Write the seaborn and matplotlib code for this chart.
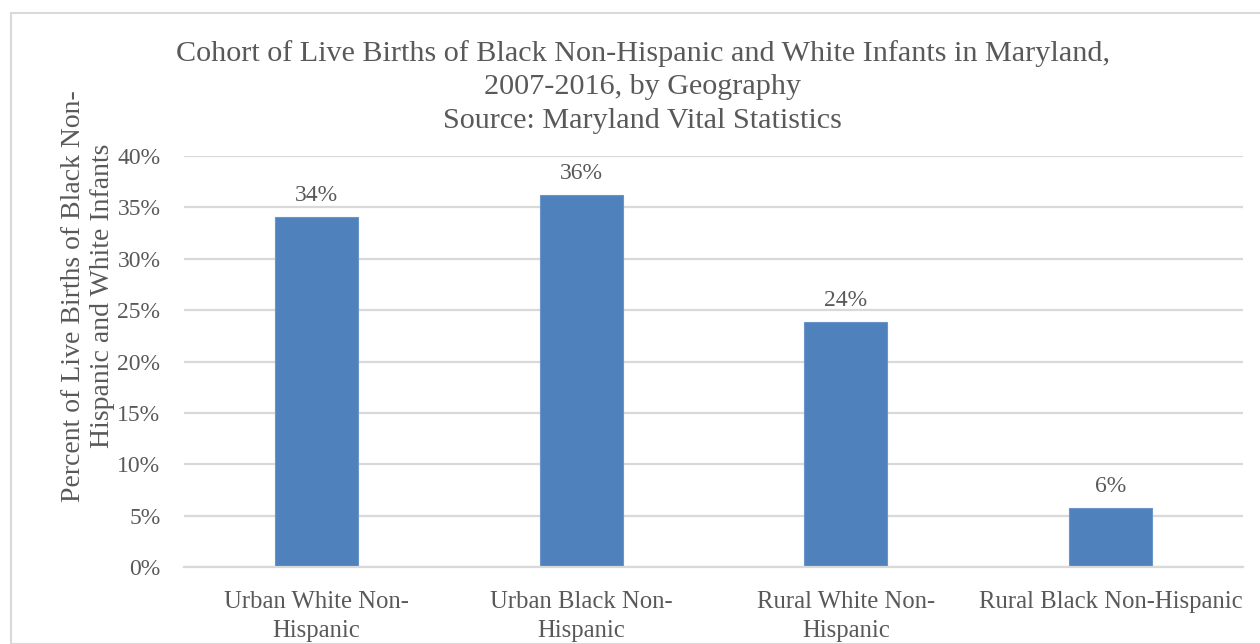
import pandas as pd
import seaborn as sns
import matplotlib.pyplot as plt
from matplotlib.patches import Rectangle
from matplotlib.ticker import FuncFormatter

# Dados
categorias = ['Urban White Non-\nHispanic', 'Urban Black Non-\nHispanic',
              'Rural White Non-\nHispanic', 'Rural Black Non-Hispanic']
percentuais = [34.1, 36.2, 23.8, 5.7]
rotulos = ['34%', '36%', '24%', '6%']

df = pd.DataFrame({'Grupo': categorias, 'Percentual': percentuais})

sns.set_style('white')
plt.rcParams['font.family'] = ['Liberation Serif', 'DejaVu Serif']

cinza = '#595959'
grade = '#d9d9d9'

fig = plt.figure(figsize=(12.6, 6.44), dpi=100)
ax = fig.add_axes([184 / 1260, 1 - 567 / 644, (1243 - 184) / 1260, (567 - 156) / 644])

sns.barplot(data=df, x='Grupo', y='Percentual', color='#4f81bd', saturation=1,
            width=0.313, ax=ax, edgecolor='#6a95c9', linewidth=0.8)

ax.bar_label(ax.containers[0], labels=rotulos, padding=8, fontsize=17, color=cinza)

ax.set_ylim(0, 40)
ax.set_yticks(range(0, 41, 5))
ax.yaxis.set_major_formatter(FuncFormatter(lambda v, p: f'{int(v)}%'))
ax.grid(axis='y', color=grade, linewidth=1.6)
ax.set_axisbelow(True)
for lado in ['top', 'right', 'left']:
    ax.spines[lado].set_visible(False)
ax.spines['bottom'].set_color(grade)
ax.spines['bottom'].set_linewidth(1.6)
ax.tick_params(axis='y', length=0, pad=17, labelsize=17, labelcolor=cinza)
ax.tick_params(axis='x', length=0, pad=17, labelsize=17.8, labelcolor=cinza)
for t in ax.get_xticklabels():
    t.set_linespacing(1.44)
ax.set_xlabel('')
ax.set_ylabel('Percent of Live Births of Black Non-\nHispanic and White Infants',
              fontsize=20, color=cinza, multialignment='center', linespacing=1.21)
ax.yaxis.set_label_coords(-0.065, 0.66)

fig.suptitle('Cohort of Live Births of Black Non-Hispanic and White Infants in Maryland,\n'
             '2007-2016, by Geography\nSource: Maryland Vital Statistics',
             x=0.51, y=1 - 40 / 644, va='top', fontsize=21.7, color=cinza, linespacing=1.37)

# Borda do gráfico
fig.patches.append(Rectangle((11 / 1260, 0), 1.2, 1 - 13 / 644, transform=fig.transFigure,
                             fill=False, edgecolor=grade, linewidth=1.5))

plt.savefig('out.png', dpi=100)
